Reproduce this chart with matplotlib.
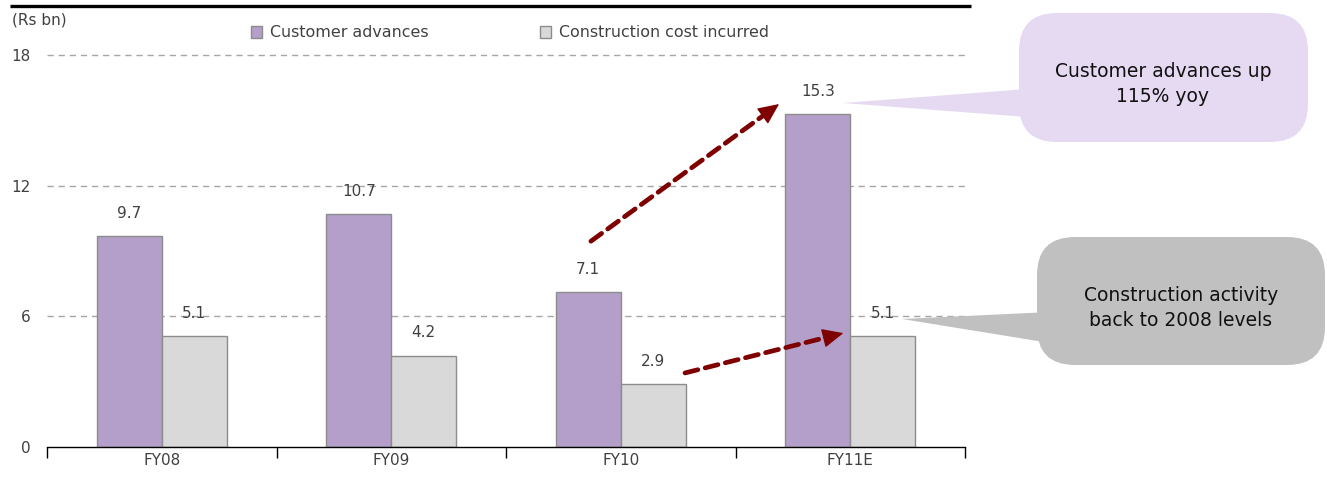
import numpy as np
import matplotlib
matplotlib.use('Agg')
import matplotlib.pyplot as plt
from matplotlib.patches import FancyBboxPatch, Polygon, Patch

years = ['FY08', 'FY09', 'FY10', 'FY11E']
advances = [9.7, 10.7, 7.1, 15.3]
cost = [5.1, 4.2, 2.9, 5.1]
series_names = ['Customer advances', 'Construction cost incurred']
yticks = [0, 6, 12, 18]

W, H = 1327, 484
purple = '#B49FCA'
grey = '#D9D9D9'
txt = '#404040'
arrow_red = '#7F0000'

plt.rcParams['font.family'] = ['DejaVu Sans']
plt.rcParams['font.size'] = 11

fig = plt.figure(figsize=(W / 100, H / 100), dpi=100)
ax = fig.add_axes([47 / W, 1 - 447 / H, (965 - 47) / W, (447 - 55) / H])

x = np.arange(len(years))
w = 0.283
ax.bar(x - w / 2, advances, w, color=purple, edgecolor='#8C8C8C', lw=1, zorder=2, label=series_names[0])
ax.bar(x + w / 2, cost, w, color=grey, edgecolor='#8C8C8C', lw=1, zorder=2, label=series_names[1])

for xi, v in zip(x - w / 2, advances):
    ax.text(xi, v + 0.7, f'{v:.1f}', ha='center', va='bottom', color=txt, fontsize=11)
for xi, v in zip(x + w / 2, cost):
    ax.text(xi, v + 0.7, f'{v:.1f}', ha='center', va='bottom', color=txt, fontsize=11)

ax.set_xlim(-0.5, len(years) - 0.5)
ax.set_ylim(0, 18)
ax.set_yticks(yticks)
ax.set_xticks(np.arange(len(years) + 1) - 0.5)
ax.set_xticklabels([])
ax.set_xticks(x, minor=True)
ax.set_xticklabels(years, minor=True)
ax.tick_params(axis='x', which='major', length=8, width=1, color='black', direction='out')
ax.tick_params(axis='x', which='minor', length=0, pad=4, labelcolor=txt, labelsize=11)
ax.tick_params(axis='y', length=0, pad=12, labelcolor=txt, labelsize=11)

for s in ['top', 'right', 'left']:
    ax.spines[s].set_visible(False)
ax.spines['bottom'].set_color('black')
ax.spines['bottom'].set_linewidth(1)

for yv in yticks[1:]:
    ax.axhline(yv, color='#A6A6A6', lw=1, ls=(0, (4.5, 3.5)), zorder=0, clip_on=False)


def dashed_arrow(start, tip):
    # dashed shaft, then a solid triangular head
    ax.annotate('', xy=tip, xytext=start,
                arrowprops=dict(arrowstyle='-', color=arrow_red, lw=3.4, ls=(0, (2.8, 1.6)),
                                shrinkA=0, shrinkB=9))
    back = (tip[0] - 0.08 * (tip[0] - start[0]), tip[1] - 0.08 * (tip[1] - start[1]))
    ax.annotate('', xy=tip, xytext=back,
                arrowprops=dict(arrowstyle='-|>,head_length=0.55,head_width=0.25', color=arrow_red,
                                lw=1, mutation_scale=24, shrinkA=0, shrinkB=0), zorder=4)


dashed_arrow((2 - 0.13, advances[2] + 2.35), (3 - 0.31, advances[3] + 0.45))
dashed_arrow((2 + 0.28, cost[2] + 0.5), (3 - 0.03, cost[3] + 0.13))

# legend
handles = [Patch(facecolor=purple, edgecolor='#8C8C8C'), Patch(facecolor=grey, edgecolor='#8C8C8C')]
fig.legend(handles, series_names, loc='center left', bbox_to_anchor=(251 / W, 1 - 33 / H),
           ncol=2, frameon=False, handlelength=0.72, handleheight=0.72, handletextpad=0.5,
           columnspacing=7.0, fontsize=11.4, labelcolor=txt, borderpad=0, borderaxespad=0)

fig.text(12 / W, 1 - 20 / H, '(Rs bn)', ha='left', va='center', color=txt, fontsize=11)

# overlay in pixel units for the top rule and callouts
ov = fig.add_axes([0, 0, 1, 1], zorder=5)
ov.set_xlim(0, W)
ov.set_ylim(H, 0)
ov.axis('off')
ov.plot([10, 971], [5.5, 5.5], color='black', lw=2.4, solid_capstyle='butt')

ov.add_patch(Polygon([(1040, 88), (843, 103), (1040, 118)], closed=True, facecolor='#E6DAF2', edgecolor='none'))
ov.add_patch(FancyBboxPatch((1019, 13), 289, 129, boxstyle='round,pad=0,rounding_size=38',
                            facecolor='#E6DAF2', edgecolor='none'))
ov.text(1163, 84, 'Customer advances up\n115% yoy', ha='center', va='center', fontsize=13.5,
        color='#111111', linespacing=1.45)

ov.add_patch(Polygon([(1050, 312), (902, 319), (1050, 343)], closed=True, facecolor='#C0C0C0', edgecolor='none'))
ov.add_patch(FancyBboxPatch((1037, 237), 288, 128, boxstyle='round,pad=0,rounding_size=38',
                            facecolor='#C0C0C0', edgecolor='none'))
ov.text(1181, 308, 'Construction activity\nback to 2008 levels', ha='center', va='center', fontsize=13.5,
        color='#111111', linespacing=1.45)

fig.savefig('out.png', dpi=100)
